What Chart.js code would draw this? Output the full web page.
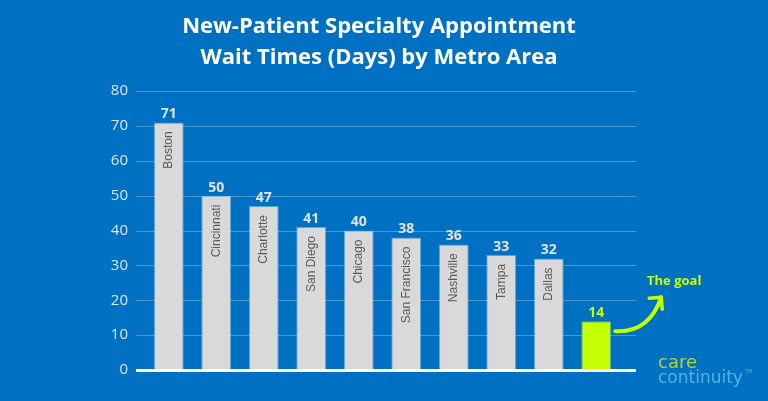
<!DOCTYPE html>
<html>
<head>
<meta charset="utf-8">
<script src="https://cdn.jsdelivr.net/npm/chart.js@4"></script>
<style>
  html, body { margin: 0; padding: 0; background: #0070c2; }
  #wrap { width: 768px; height: 401px; }
</style>
</head>
<body>
<div id="wrap"><canvas id="chart" width="768" height="401"></canvas></div>
<script>
const metros = ['Boston', 'Cincinnati', 'Charlotte', 'San Diego', 'Chicago', 'San Francisco', 'Nashville', 'Tampa', 'Dallas', ''];
const waitDays = [71, 50, 47, 41, 40, 38, 36, 33, 32, 14];
const barColors = ['#d9d9d9', '#d9d9d9', '#d9d9d9', '#d9d9d9', '#d9d9d9', '#d9d9d9', '#d9d9d9', '#d9d9d9', '#d9d9d9', '#c4ff00'];
const titleLines = ['New-Patient Specialty Appointment', 'Wait Times (Days) by Metro Area'];
const yTicks = [0, 10, 20, 30, 40, 50, 60, 70, 80];

const LIME = '#c4ff00';

// dibuja titulo, rejilla, etiquetas y la flecha del objetivo
const decor = {
  id: 'decor',
  beforeDatasetsDraw(chart) {
    const ctx = chart.ctx;
    const y = chart.scales.y;
    ctx.save();
    ctx.strokeStyle = 'rgba(255,255,255,0.28)';
    ctx.lineWidth = 1;
    yTicks.forEach(t => {
      if (t === 0) return;
      const py = Math.round(y.getPixelForValue(t)) + 0.5;
      ctx.beginPath();
      ctx.moveTo(136, py);
      ctx.lineTo(636, py);
      ctx.stroke();
    });
    ctx.restore();
  },
  afterDatasetsDraw(chart) {
    const ctx = chart.ctx;
    const y = chart.scales.y;
    const bars = chart.getDatasetMeta(0).data;
    ctx.save();

    // linea base
    ctx.fillStyle = '#ffffff';
    ctx.fillRect(136, y.getPixelForValue(0) - 1, 500, 3);

    // titulo
    ctx.fillStyle = '#ffffff';
    ctx.font = 'bold 22px "Open Sans"';
    ctx.textAlign = 'center';
    ctx.textBaseline = 'middle';
    ctx.fillText(titleLines[0], 379, 27);
    ctx.fillText(titleLines[1], 379, 58);

    bars.forEach((bar, i) => {
      const isGoal = i === bars.length - 1;
      // valor
      ctx.fillStyle = isGoal ? LIME : '#dde3ea';
      ctx.font = 'bold 14px "Open Sans"';
      ctx.textAlign = 'center';
      ctx.textBaseline = 'bottom';
      ctx.fillText(String(waitDays[i]), bar.x, bar.y - 1);
      // nombre rotado
      if (metros[i]) {
        ctx.save();
        ctx.translate(bar.x, bar.y + 9);
        ctx.rotate(-Math.PI / 2);
        ctx.fillStyle = '#595959';
        ctx.font = '12px "Liberation Sans"';
        ctx.textAlign = 'right';
        ctx.textBaseline = 'middle';
        ctx.fillText(metros[i], 0, 0);
        ctx.restore();
      }
    });

    // flecha hacia "The goal"
    const g = bars[bars.length - 1];
    const sx = g.x + g.width / 2 + 4, sy = g.y + 10;
    const ex = sx + 46, ey = sy - 34;
    ctx.strokeStyle = LIME;
    ctx.lineWidth = 4;
    ctx.lineCap = 'round';
    ctx.lineJoin = 'round';
    ctx.beginPath();
    ctx.moveTo(sx, sy);
    ctx.quadraticCurveTo(sx + 34, sy + 2, ex, ey);
    ctx.stroke();
    ctx.lineWidth = 3.5;
    ctx.beginPath();
    ctx.moveTo(ex - 12, ey + 1);
    ctx.lineTo(ex, ey);
    ctx.lineTo(ex + 1, ey + 12);
    ctx.stroke();

    ctx.fillStyle = LIME;
    ctx.font = 'bold 13px "Open Sans"';
    ctx.textAlign = 'left';
    ctx.textBaseline = 'middle';
    ctx.fillText('The goal', 647, 281);

    // logo
    ctx.font = '18px "DejaVu Sans"';
    ctx.textBaseline = 'alphabetic';
    ctx.fillStyle = '#b5d334';
    ctx.fillText('care', 658, 368);
    ctx.fillStyle = '#4fb3e8';
    ctx.font = '17px "DejaVu Sans"';
    ctx.fillText('continuity', 658, 383);
    ctx.font = '5px "DejaVu Sans"';
    ctx.fillText('TM', 745, 373);
    ctx.restore();
  }
};

new Chart(document.getElementById('chart').getContext('2d'), {
  type: 'bar',
  data: {
    labels: metros,
    datasets: [{
      data: waitDays,
      backgroundColor: barColors,
      borderColor: 'rgba(255,255,255,0.35)',
      borderWidth: 1,
      barPercentage: 0.7,
      categoryPercentage: 0.9
    }]
  },
  options: {
    responsive: false,
    animation: false,
    layout: { padding: { left: 0, right: 148, top: 91, bottom: 31 } },
    plugins: {
      legend: { display: false },
      tooltip: { enabled: false }
    },
    scales: {
      x: {
        display: false
      },
      y: {
        min: 0,
        max: 80,
        afterFit: s => { s.width = 145; },
        afterBuildTicks: s => { s.ticks = yTicks.map(v => ({ value: v })); },
        grid: { display: false, drawTicks: false },
        border: { display: false },
        ticks: {
          padding: 17,
          color: '#dbe7f4',
          font: { family: 'Open Sans', size: 15 }
        }
      }
    }
  },
  plugins: [decor]
});
</script>
</body>
</html>
